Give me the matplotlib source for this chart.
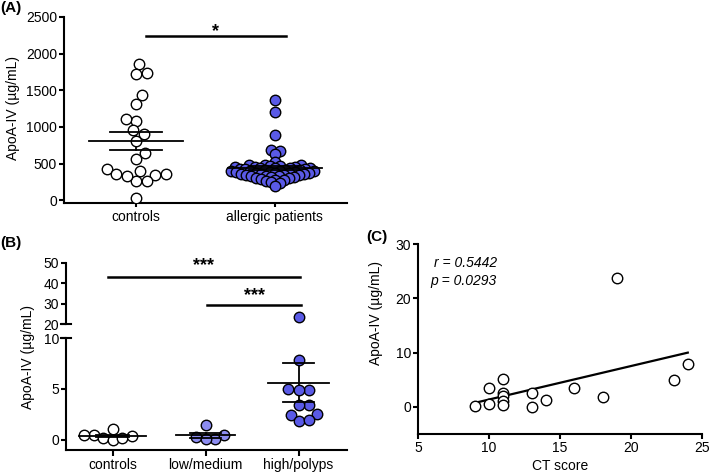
import numpy as np
import matplotlib
matplotlib.use("Agg")
import matplotlib.pyplot as plt
from matplotlib.lines import Line2D

plt.rcParams['font.family'] = ['Liberation Sans', 'DejaVu Sans']
plt.rcParams['font.size'] = 10

# (A) ApoA-IV in controls vs allergic patients
a_controls = [1862, 1726, 1740, 1439, 1316, 1088, 1107, 906, 952, 815, 647, 569,
              428, 360, 346, 269, 269, 332, 360, 401, 32]
a_allergic = [1371, 1207, 893, 683, 669, 638, 519, 487,
              480, 475, 470, 465, 460, 455, 450, 446, 442, 438, 434, 430, 426,
              422, 418, 414, 410, 406, 402, 398, 394, 390, 386, 382, 378, 374,
              370, 366, 362, 358, 354, 350, 345, 340, 335, 330, 325, 320, 312,
              305, 298, 290, 280, 270, 258, 245, 230, 200]
a_labels = ["controls", "allergic patients"]

# (B) ApoA-IV by CT group
b_controls = [1.08, 0.43, 0.16, 0.03, 0.13, 0.33, 0.49]
b_lowmed = [0.23, 1.41, 0.07, 0.07, 0.49]
b_high = [23.6, 7.87, 4.98, 4.92, 4.92, 3.44, 3.38, 2.46, 2.56, 1.80, 1.90]
b_labels = ["controls", "low/medium", "high/polyps"]

# (C) correlation with CT score
c_ct = [9, 10, 10, 11, 11, 11, 11, 11, 13, 13, 14, 16, 18, 19, 23, 24]
c_apo = [0.2, 3.4, 0.55, 5.16, 2.58, 1.97, 1.04, 0.3, 2.58, 0.06, 1.35, 3.5,
         1.84, 23.8, 4.9, 7.87]

BLUE = "#5A5AE6"
LIGHT = "#8C8CF0"
W, H = 709, 472
SZ = 57
DIAM = 10.5


def swarm_x(ax, xc, vals, diam, overlap=1.0):
    # simple beeswarm in pixel space
    vals = np.asarray(vals, float)
    pts = ax.transData.transform(np.column_stack([np.full(len(vals), xc), vals]))
    d = diam * overlap
    placed = []
    offs = np.zeros(len(vals))
    for i in np.argsort(vals):
        y = pts[i, 1]
        cands = [0.0]
        for px, py in placed:
            dy = abs(py - y)
            if dy < d:
                dx = np.sqrt(d * d - dy * dy)
                cands += [px + dx, px - dx]
        cands.sort(key=abs)
        for c in cands:
            if all((c - px) ** 2 + (y - py) ** 2 >= d * d - 1e-6 for px, py in placed):
                break
        placed.append((c, y))
        offs[i] = c
    out = np.column_stack([pts[:, 0] + offs, pts[:, 1]])
    return ax.transData.inverted().transform(out)[:, 0]


def mean_sem(ax, xc, vals, half, cap, lw=1.3):
    v = np.asarray(vals, float)
    m = v.mean()
    s = v.std(ddof=1) / np.sqrt(len(v))
    ax.plot([xc - half, xc + half], [m, m], color="black", lw=lw, zorder=4)
    ax.plot([xc - cap, xc + cap], [m + s, m + s], color="black", lw=lw, zorder=4)
    ax.plot([xc - cap, xc + cap], [m - s, m - s], color="black", lw=lw, zorder=4)
    ax.plot([xc, xc], [m - s, m + s], color="black", lw=lw, zorder=1)


def style(ax):
    for side in ["top", "right"]:
        ax.spines[side].set_visible(False)
    for side in ["left", "bottom"]:
        ax.spines[side].set_linewidth(1.5)
    ax.tick_params(width=1.5, length=3.5, pad=1.5, labelsize=10)


fig = plt.figure(figsize=(W / 100, H / 100), dpi=100)

# ---------- (A)
axA = fig.add_axes([64 / W, 1 - 203 / H, (347 - 64) / W, (203 - 17) / H])
style(axA)
axA.set_xlim(-0.52, 1.52)
axA.set_ylim(-37, 2500)
axA.set_yticks([0, 500, 1000, 1500, 2000, 2500])
axA.set_xticks([0, 1])
axA.set_xticklabels(a_labels)
axA.tick_params(axis="x", length=3, pad=2)
xa = swarm_x(axA, 0, a_controls, DIAM)
axA.scatter(xa, a_controls, s=SZ, facecolor="white", edgecolor="black", lw=1, zorder=3)
xb = swarm_x(axA, 1, a_allergic, DIAM, overlap=0.5)
axA.scatter(xb, a_allergic, s=SZ, facecolor=BLUE, edgecolor="black", lw=1, zorder=3)
mean_sem(axA, 0, a_controls, 0.34, 0.19)
mean_sem(axA, 1, a_allergic, 0.34, 0.19)
axA.plot([0.07, 1.08], [2245, 2245], color="black", lw=1.8, clip_on=False)
axA.text(0.575, 2300, "*", ha="center", va="center", fontsize=13, fontweight="bold")

# ---------- (B) broken axis
x0, x1 = 66 / W, 347 / W
axB = fig.add_axes([x0, 1 - 450 / H, x1 - x0, (450 - 338) / H])
axBt = fig.add_axes([x0, 1 - 324 / H, x1 - x0, (324 - 263) / H])
style(axB)
style(axBt)
axBt.spines["bottom"].set_visible(False)
axBt.set_xticks([])
for ax in (axB, axBt):
    ax.set_xlim(-0.5, 2.52)
    ax.patch.set_alpha(0)
axB.set_ylim(-1, 10)
axB.set_yticks([0, 5, 10])
axBt.set_ylim(20, 50)
axBt.set_yticks([20, 30, 40, 50])
axB.set_xticks([0, 1, 2])
axB.set_xticklabels(b_labels)
axB.tick_params(axis="x", length=4, pad=2)

xc_ = swarm_x(axB, 0, b_controls, DIAM, overlap=0.92)
axB.scatter(xc_, b_controls, s=SZ, facecolor="white", edgecolor="black", lw=1, zorder=3)
xl_ = swarm_x(axB, 1, b_lowmed, DIAM, overlap=0.92)
axB.scatter(xl_, b_lowmed, s=SZ, facecolor=LIGHT, edgecolor="black", lw=1, zorder=3)
xh_ = swarm_x(axB, 2, b_high, DIAM, overlap=1.0)
hi = np.array(b_high)
axB.scatter(xh_[hi < 10], hi[hi < 10], s=SZ, facecolor=BLUE, edgecolor="black", lw=1, zorder=3)
axBt.scatter(xh_[hi >= 20], hi[hi >= 20], s=SZ, facecolor=BLUE, edgecolor="black", lw=1, zorder=3)
mean_sem(axB, 0, b_controls, 0.36, 0.18)
mean_sem(axB, 1, b_lowmed, 0.32, 0.17)
mean_sem(axB, 2, b_high, 0.33, 0.17)

axBt.plot([-0.05, 2.01], [42.9, 42.9], color="black", lw=1.8, clip_on=False)
axBt.text(0.98, 48.5, "***", ha="center", va="center", fontsize=13, fontweight="bold")
axBt.plot([1.02, 2.03], [29.4, 29.4], color="black", lw=1.8, clip_on=False)
axBt.text(1.53, 34.0, "***", ha="center", va="center", fontsize=13, fontweight="bold")

# break caps on the spine
for yy in (324, 338):
    fig.add_artist(Line2D([(66 - 5) / W, (66 + 5) / W], [1 - yy / H, 1 - yy / H],
                          transform=fig.transFigure, color="black", lw=1.5))

# ---------- (C)
axC = fig.add_axes([418 / W, 1 - 434 / H, (702 - 418) / W, (434 - 244) / H])
style(axC)
axC.set_xlim(5, 25)
axC.set_ylim(-5, 30)
axC.set_xticks([5, 10, 15, 20, 25])
axC.set_yticks([0, 10, 20, 30])
axC.scatter(c_ct, c_apo, s=SZ, facecolor="white", edgecolor="black", lw=1, zorder=3)
k, b = np.polyfit(c_ct, c_apo, 1)
xf = np.array([min(c_ct), max(c_ct)])
axC.plot(xf, k * xf + b, color="black", lw=1.6, zorder=2)
axC.text(10.55, 26.5, "r = 0.5442", ha="right", va="center", fontsize=10, style="italic")
axC.text(10.55, 23.2, "p = 0.0293", ha="right", va="center", fontsize=10, style="italic")
axC.set_xlabel("CT score", fontsize=10, labelpad=3)

# y labels and panel letters
fig.text(13 / W, 1 - 108 / H, "ApoA-IV (µg/mL)", rotation=90, ha="center", va="center", fontsize=10)
fig.text(28 / W, 1 - 357 / H, "ApoA-IV (µg/mL)", rotation=90, ha="center", va="center", fontsize=10)
fig.text(376 / W, 1 - 313 / H, "ApoA-IV (µg/mL)", rotation=90, ha="center", va="center", fontsize=10)
fig.text(0 / W, 1 - 1 / H, "(A)", ha="left", va="top", fontsize=11, fontweight="bold")
fig.text(0 / W, 1 - 236 / H, "(B)", ha="left", va="top", fontsize=11, fontweight="bold")
fig.text(366 / W, 1 - 230 / H, "(C)", ha="left", va="top", fontsize=11, fontweight="bold")

fig.savefig("out.png", dpi=100)
